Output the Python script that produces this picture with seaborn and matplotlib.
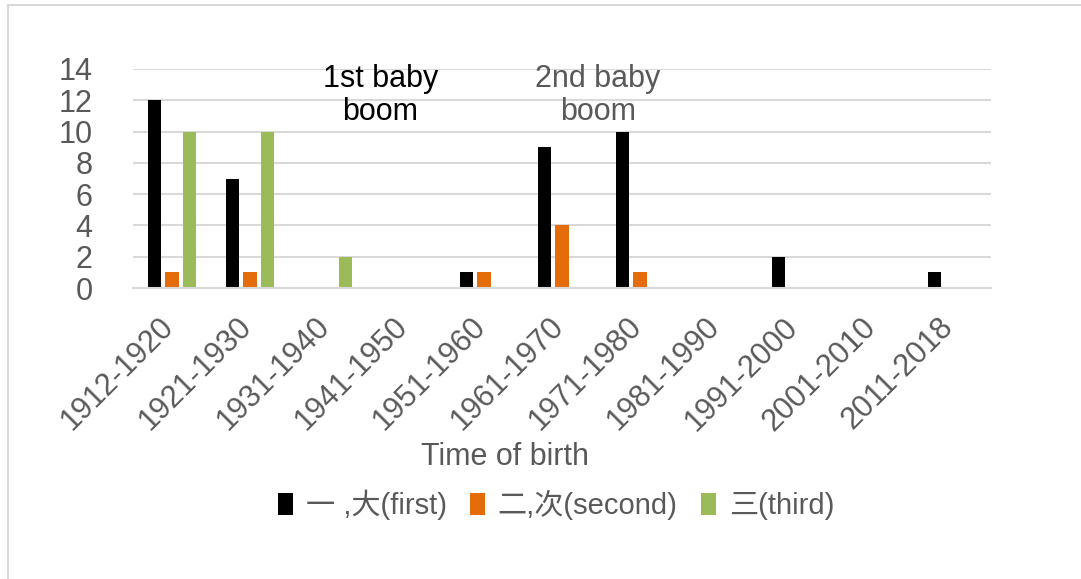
import pandas as pd
import matplotlib.pyplot as plt
import matplotlib.transforms as mtransforms
from matplotlib.lines import Line2D
import seaborn as sns

# ---- data ----
periods = ['1912-1920', '1921-1930', '1931-1940', '1941-1950', '1951-1960',
           '1961-1970', '1971-1980', '1981-1990', '1991-2000', '2001-2010', '2011-2018']
first = [12, 7, 0, 0, 1, 9, 10, 0, 2, 0, 1]
second = [1, 1, 0, 0, 1, 4, 1, 0, 0, 0, 0]
third = [10, 10, 2, 0, 0, 0, 0, 0, 0, 0, 0]
series_names = ['一 ,大(first)', '二,次(second)', '三(third)']
colors = ['#000000', '#E46C0A', '#9BBB59']

df = pd.DataFrame({
    'period': periods * 3,
    'count': first + second + third,
    'order': [series_names[0]] * 11 + [series_names[1]] * 11 + [series_names[2]] * 11,
})

sns.set_style('white')
plt.rcParams['font.family'] = ['Liberation Sans', 'Noto Sans CJK SC', 'DejaVu Sans']

fig = plt.figure(figsize=(10.81, 5.79), dpi=100)
ax = fig.add_axes([133 / 1081, 1 - 288 / 579, (991 - 133) / 1081, (288 - 69) / 579])

sns.barplot(data=df, x='period', y='count', hue='order', palette=colors, saturation=1,
            width=0.673, gap=0.23, linewidth=0, errorbar=None, ax=ax)

ax.set_ylim(0, 14)
ax.set_yticks(range(0, 15, 2))
ax.set_xlim(-0.5, len(periods) - 0.5)
ax.yaxis.grid(True, color='#d9d9d9', linewidth=1.5)
ax.set_axisbelow(True)
for s in ['top', 'right', 'left']:
    ax.spines[s].set_visible(False)
ax.spines['bottom'].set_color('#d9d9d9')
ax.spines['bottom'].set_linewidth(1.5)
ax.set_xlabel('')
ax.set_ylabel('')
ax.tick_params(axis='y', length=0, pad=29, labelsize=22, labelcolor='#595959')
ax.tick_params(axis='x', length=0, pad=0, labelsize=22, labelcolor='#595959')

shift = mtransforms.ScaledTranslation(-0.03, -0.345, fig.dpi_scale_trans)
for lab in ax.get_xticklabels():
    lab.set_rotation(45)
    lab.set_rotation_mode('anchor')
    lab.set_ha('right')
    lab.set_va('center')
    lab.set_transform(lab.get_transform() + shift)

ax.text(2.67, 12.3, '1st baby\nboom', ha='center', va='center', fontsize=22,
        color='black', linespacing=1.1)
ax.text(5.46, 12.3, '2nd baby\nboom', ha='center', va='center', fontsize=22,
        color='#595959', linespacing=1.1)

fig.text(505 / 1081, 1 - 457 / 579, 'Time of birth', ha='center', va='center',
         fontsize=22, color='#595959')

ax.get_legend().remove()
handles, labels = ax.get_legend_handles_labels()
leg = fig.legend(handles, labels, loc='center', bbox_to_anchor=(556 / 1081, 1 - 505 / 579),
                 ncol=3, frameon=False, fontsize=21, handlelength=0.5, handleheight=0.8,
                 handletextpad=0.45, columnspacing=0.8, labelcolor='#595959')

# chart area border
fig.add_artist(Line2D([8 / 1081, 1], [1 - 5 / 579, 1 - 5 / 579], color='#d9d9d9', linewidth=1.5))
fig.add_artist(Line2D([8 / 1081, 8 / 1081], [0, 1 - 5 / 579], color='#d9d9d9', linewidth=1.5))

fig.savefig('out.png', dpi=100)
